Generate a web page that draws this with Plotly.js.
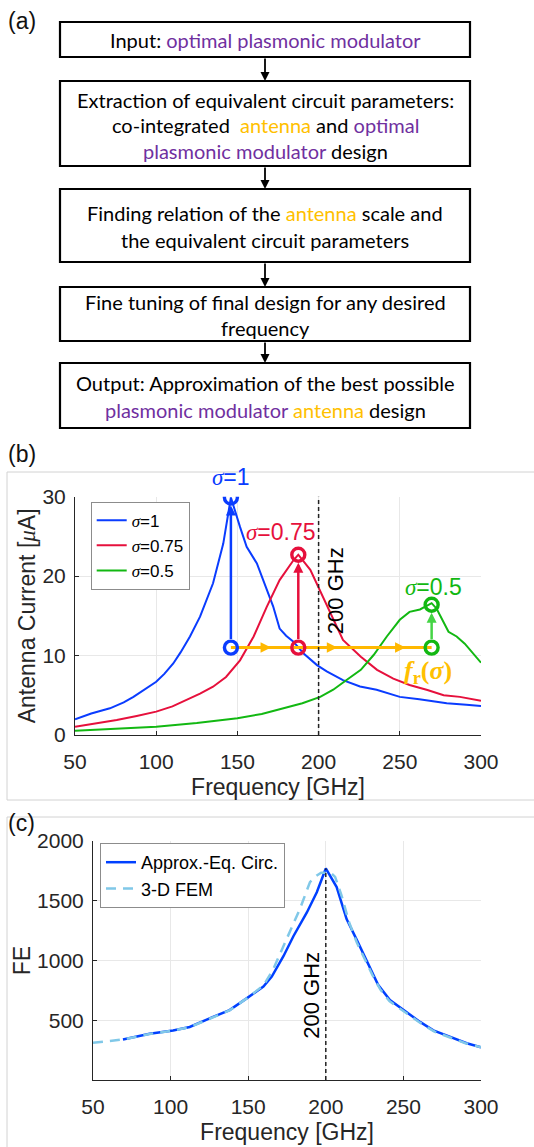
<!DOCTYPE html>
<html>
<head>
<meta charset="utf-8">
<script src="https://cdn.plot.ly/plotly-3.0.1.min.js"></script>
<style>
  html, body { margin: 0; padding: 0; background: #fff; }
  #fig { width: 534px; height: 1147px; }
</style>
</head>
<body>
<div id="fig"></div>
<script>
// ---------- (b) antenna current vs frequency for three antenna scales ----------
const sigmaLabels = ['1', '0.75', '0.5'];

const freqS1 = [50, 60, 71.5, 80, 86, 93, 100, 105, 110.5, 115, 120.8, 127, 131, 135, 141.3, 146, 151.6, 155.7, 162, 168, 172, 176, 180, 184.5, 190.6, 199, 205, 215, 225.5, 235.7, 250, 262, 270.6, 278.9, 291, 300];
const currS1 = [1.97, 2.7, 3.36, 4.1, 4.8, 5.7, 6.7, 7.7, 9.0, 10.4, 12.4, 14.9, 16.9, 19.1, 24.1, 29.9, 26.2, 23.7, 21.6, 18.3, 16.2, 13.4, 12.5, 11.75, 10.3, 8.8, 8.0, 6.9, 6.1, 5.7, 4.8, 4.5, 4.2, 4.0, 3.8, 3.65];

const freqS075 = [50, 62, 75.7, 88, 100, 110, 118.8, 127, 135, 143, 151.6, 160, 168, 176, 184.5, 187.5, 194.9, 201, 209, 215, 226, 236, 246, 256, 267, 277, 287, 300];
const currS075 = [1.05, 1.45, 1.89, 2.4, 2.94, 3.6, 4.4, 5.2, 6.08, 7.3, 9.4, 12.4, 16.1, 19.5, 22.0, 22.7, 20.8, 18.1, 14.5, 11.96, 9.86, 8.2, 7.1, 6.3, 5.66, 5.0, 4.8, 4.3];

const freqS05 = [50, 75, 100, 125, 150, 165, 178, 190, 201, 209, 217, 226, 234, 242, 250, 256, 262.4, 269.6, 272.7, 280, 285, 290, 300];
const currS05 = [0.55, 0.78, 1.05, 1.5, 2.1, 2.65, 3.36, 4.0, 4.8, 5.7, 6.9, 8.2, 10.1, 12.4, 14.5, 15.5, 15.8, 16.6, 15.9, 13.0, 12.4, 11.5, 9.1];

// resonance of each curve and the common reference current level
const peakFreq = [146, 187.5, 269.6];
const peakCurrent = [29.9, 22.7, 16.4];
const baseCurrent = 11.0;
const refFreq = 200;

// ---------- (c) field enhancement ----------
const freqApprox = [69.3, 86.5, 101.6, 112.3, 127.4, 138, 149, 159.8, 165.2, 172.7, 179.2, 187.8, 194.2, 200, 207, 213.4, 219.8, 227.3, 233.7, 241.3, 249.9, 260.7, 269.3, 280, 290.8, 300];
const feApprox = [339, 387, 415, 444, 528, 585, 683, 782, 866, 1036, 1205, 1402, 1571, 1770, 1614, 1346, 1177, 979, 796, 669, 585, 486, 415, 359, 308, 274];

const freqFem = [50, 69.3, 86.5, 101.6, 112.3, 127.4, 138, 149, 159.8, 166, 174.7, 183.3, 189.8, 194, 197, 203, 206, 210, 215, 220, 230, 235, 241, 250, 260, 270, 280, 290, 300];
const feFem = [311, 339, 385, 413, 442, 525, 583, 683, 790, 923, 1177, 1431, 1656, 1710, 1735, 1735, 1700, 1550, 1320, 1150, 880, 760, 660, 575, 485, 405, 355, 308, 274];

const freqTicks = [50, 100, 150, 200, 250, 300];
const currentTicks = [0, 10, 20, 30];
const feTicks = [500, 1000, 1500, 2000];

// ---------- page geometry helpers (pixel -> paper) ----------
const W = 534, H = 1147;
const px = x => x / W;
const py = y => 1 - y / H;

const SANS = 'Liberation Sans, Arial, sans-serif';
const SERIF = 'Liberation Serif';
const FLOW = 'Lato, sans-serif';
const PURPLE = '#7030A0';
const GOLD = '#FFC000';
const sig = '<span style="font-family:' + SERIF + '"><i>σ</i></span>';

const colS = ['#0A3CFF', '#E6103C', '#12B812'];
const arrowCol = ['#0A3CFF', '#E6103C', '#45D445'];
const goldLine = '#FFB800';

const curves = [[freqS1, currS1], [freqS075, currS075], [freqS05, currS05]];

const traces = [];
curves.forEach((c, i) => {
  traces.push({
    x: c[0], y: c[1], type: 'scatter', mode: 'lines',
    name: sig + '=' + sigmaLabels[i],
    line: { color: colS[i], width: 2 },
    xaxis: 'x', yaxis: 'y', legend: 'legend'
  });
});

// shift of the resonance along the common current level
traces.push({
  x: [peakFreq[0], peakFreq[peakFreq.length - 1]], y: [baseCurrent, baseCurrent],
  type: 'scatter', mode: 'lines', line: { color: goldLine, width: 3 },
  showlegend: false, xaxis: 'x', yaxis: 'y', hoverinfo: 'skip'
});

traces.push({
  x: freqApprox, y: feApprox, type: 'scatter', mode: 'lines', name: 'Approx.-Eq. Circ.',
  line: { color: '#0040FF', width: 2.5 }, xaxis: 'x2', yaxis: 'y2', legend: 'legend2'
});
traces.push({
  x: freqFem, y: feFem, type: 'scatter', mode: 'lines', name: '3-D FEM',
  line: { color: '#80C8E8', width: 2.5, dash: '10px,7px' }, xaxis: 'x2', yaxis: 'y2', legend: 'legend2'
});

const axisCommon = {
  ticks: 'inside', ticklen: 4, tickcolor: '#262626', tickwidth: 1,
  showline: true, linecolor: '#262626', linewidth: 1,
  showgrid: true, gridcolor: '#e8e8e8', gridwidth: 1,
  zeroline: false, automargin: false, mirror: false,
  tickfont: { family: SANS, size: 21, color: '#262626' }
};

const shapes = [];
const annotations = [];

// ---------- (a) flowchart ----------
const boxX0 = 60, boxX1 = 470, boxCx = 265;
const boxes = [[22, 57], [81, 166], [189, 262], [287, 341], [363, 428]];
const gold = t => '<span style="color:' + GOLD + '">' + t + '</span>';
const purple = t => '<span style="color:' + PURPLE + '">' + t + '</span>';
const flowLines = [
  [[40, 'Input: ' + purple('optimal plasmonic modulator')]],
  [[99.5, 'Extraction of equivalent circuit parameters:'],
   [125, 'co-integrated\u00a0 ' + gold('antenna') + ' and ' + purple('optimal')],
   [150.5, purple('plasmonic modulator') + ' design']],
  [[213, 'Finding relation of the ' + gold('antenna') + ' scale and'],
   [240, 'the equivalent circuit parameters']],
  [[301.5, 'Fine tuning of final design for any desired'],
   [328, 'frequency']],
  [[383, 'Output: Approximation of the best possible'],
   [410.5, purple('plasmonic modulator') + ' ' + gold('antenna') + ' design']]
];

boxes.forEach((b, i) => {
  shapes.push({
    type: 'rect', xref: 'paper', yref: 'paper',
    x0: px(boxX0), x1: px(boxX1), y0: py(b[0]), y1: py(b[1]),
    line: { color: '#000', width: 2.2 }, fillcolor: 'rgba(0,0,0,0)'
  });
  flowLines[i].forEach(l => {
    annotations.push({
      xref: 'paper', yref: 'paper', x: px(boxCx), y: py(l[0]),
      xanchor: 'center', yanchor: 'middle', showarrow: false,
      text: l[1], font: { family: FLOW, size: 20, color: '#000' }
    });
  });
  if (i < boxes.length - 1) {
    const gap = boxes[i + 1][0] - b[1];
    annotations.push({
      xref: 'paper', yref: 'paper', x: px(boxCx), y: py(boxes[i + 1][0]),
      ax: 0, ay: -gap, axref: 'pixel', ayref: 'pixel',
      text: '', showarrow: true, arrowhead: 2, arrowsize: 1, arrowwidth: 1.8,
      arrowcolor: '#000', standoff: 0
    });
  }
});

// panel labels
[['(a)', 21], ['(b)', 454], ['(c)', 823]].forEach(p => {
  annotations.push({
    xref: 'paper', yref: 'paper', x: px(6), y: py(p[1]), xanchor: 'left', yanchor: 'middle',
    showarrow: false, text: p[0], font: { family: SANS, size: 23, color: '#111' }
  });
});

// panel frames
const frameCol = '#d2d2d2';
[[7, 472, 800], [7, 817, 1147]].forEach(f => {
  shapes.push({ type: 'line', xref: 'paper', yref: 'paper', x0: px(f[0]), x1: 1, y0: py(f[1]), y1: py(f[1]), line: { color: frameCol, width: 1 } });
  shapes.push({ type: 'line', xref: 'paper', yref: 'paper', x0: px(f[0]), x1: px(f[0]), y0: py(f[1]), y1: py(f[2]), line: { color: frameCol, width: 1 } });
});
shapes.push({ type: 'line', xref: 'paper', yref: 'paper', x0: px(7), x1: 1, y0: py(800), y1: py(800), line: { color: frameCol, width: 1 } });

// ---------- (b) decorations ----------
shapes.push({
  type: 'line', xref: 'x', yref: 'y domain', x0: refFreq, x1: refFreq, y0: 0, y1: 1,
  line: { color: '#222', width: 1.5, dash: '4px,3px' }
});
annotations.push({
  xref: 'x', yref: 'y domain', x: refFreq, y: 0.797, xshift: 17, textangle: -90,
  showarrow: false, text: '200 GHz', font: { family: SANS, size: 22, color: '#000' }
});

// open circles at each resonance peak and on the reference level (fixed pixel size)
const R = 6.5;
peakFreq.forEach((f, i) => {
  [peakCurrent[i], baseCurrent].forEach(v => {
    shapes.push({
      type: 'circle', xref: 'x', yref: 'y',
      xsizemode: 'pixel', ysizemode: 'pixel', xanchor: f, yanchor: v,
      x0: -R, x1: R, y0: -R, y1: R,
      line: { color: colS[i], width: 3.4 }, fillcolor: 'rgba(0,0,0,0)', layer: 'above'
    });
  });
});

// vertical arrows: reference level up to each resonance peak
peakFreq.forEach((f, i) => {
  annotations.push({
    xref: 'x', yref: 'y', x: f, y: peakCurrent[i], axref: 'x', ayref: 'y', ax: f, ay: baseCurrent,
    text: '', showarrow: true, arrowhead: 2, arrowsize: 0.8, arrowwidth: 2.5,
    arrowcolor: arrowCol[i], standoff: 8, startstandoff: 7
  });
});

// arrowheads along the resonance shift line
const fStart = peakFreq[0], fEnd = peakFreq[peakFreq.length - 1];
[0.2, 0.53, 0.87].forEach(t => {
  annotations.push({
    xref: 'x', yref: 'y', x: fStart + t * (fEnd - fStart), y: baseCurrent, ax: -10, ay: 0,
    text: '', showarrow: true, arrowhead: 2, arrowsize: 0.7, arrowwidth: 3, arrowcolor: goldLine
  });
});

// sigma labels above each peak
const labelShift = [[0, 20], [-17, 23], [2, 18]];
peakFreq.forEach((f, i) => {
  annotations.push({
    xref: 'x', yref: 'y', x: f, y: peakCurrent[i], xshift: labelShift[i][0], yshift: labelShift[i][1],
    showarrow: false, text: sig + '=' + sigmaLabels[i],
    font: { family: SANS, size: 23, color: colS[i] }
  });
});
annotations.push({
  xref: 'x', yref: 'y', x: fEnd, y: baseCurrent, xshift: -4, yshift: -24, showarrow: false,
  text: '<b><i>f</i><sub>r</sub>(<i>σ</i>)</b>', font: { family: SERIF, size: 26, color: GOLD }
});

// ---------- (c) decorations ----------
shapes.push({
  type: 'line', xref: 'x2', yref: 'y2', x0: refFreq, x1: refFreq, y0: 0, y1: Math.max(...feApprox),
  line: { color: '#222', width: 1.5, dash: '4px,3px' }
});
annotations.push({
  xref: 'x2', yref: 'y2 domain', x: refFreq, y: 0.356, xshift: -14, textangle: -90,
  showarrow: false, text: '200 GHz', font: { family: SANS, size: 22, color: '#000' }
});

const layout = {
  width: W, height: H, margin: { l: 0, r: 0, t: 0, b: 0 },
  paper_bgcolor: '#fff', plot_bgcolor: '#fff',
  showlegend: true,
  xaxis: Object.assign({}, axisCommon, {
    domain: [px(75), px(481)], range: [50, 300], anchor: 'y', tickvals: freqTicks,
    ticklabelstandoff: 8,
    title: { text: 'Frequency [GHz]', font: { family: SANS, size: 23, color: '#262626' }, standoff: 6 }
  }),
  yaxis: Object.assign({}, axisCommon, {
    domain: [py(735), py(496.7)], range: [0, 30], anchor: 'x', tickvals: currentTicks,
    ticklabelstandoff: 4,
    title: { text: 'Antenna Current [<span style="font-family:' + SERIF + '"><i>μ</i></span>A]', font: { family: SANS, size: 23, color: '#262626' }, standoff: 0 }
  }),
  xaxis2: Object.assign({}, axisCommon, {
    domain: [px(93), px(481)], range: [50, 300], anchor: 'y2', tickvals: freqTicks,
    ticklabelstandoff: 8,
    title: { text: 'Frequency [GHz]', font: { family: SANS, size: 23, color: '#262626' }, standoff: 6 }
  }),
  yaxis2: Object.assign({}, axisCommon, {
    domain: [py(1080), py(841)], range: [0, 2000], anchor: 'x2', tickvals: feTicks,
    ticklabelstandoff: 4,
    title: { text: 'FE', font: { family: SANS, size: 23, color: '#262626' }, standoff: 0 }
  }),
  legend: {
    x: px(90.7), y: py(501.7), xanchor: 'left', yanchor: 'top',
    bgcolor: '#fff', bordercolor: '#8c8c8c', borderwidth: 1,
    font: { family: SANS, size: 17, color: '#000' }, tracegroupgap: 0
  },
  legend2: {
    x: px(100), y: py(843), xanchor: 'left', yanchor: 'top',
    bgcolor: '#fff', bordercolor: '#8c8c8c', borderwidth: 1,
    font: { family: SANS, size: 18, color: '#000' }
  },
  shapes: shapes,
  annotations: annotations
};

Plotly.newPlot('fig', traces, layout, { staticPlot: true, displayModeBar: false });
</script>
</body>
</html>
